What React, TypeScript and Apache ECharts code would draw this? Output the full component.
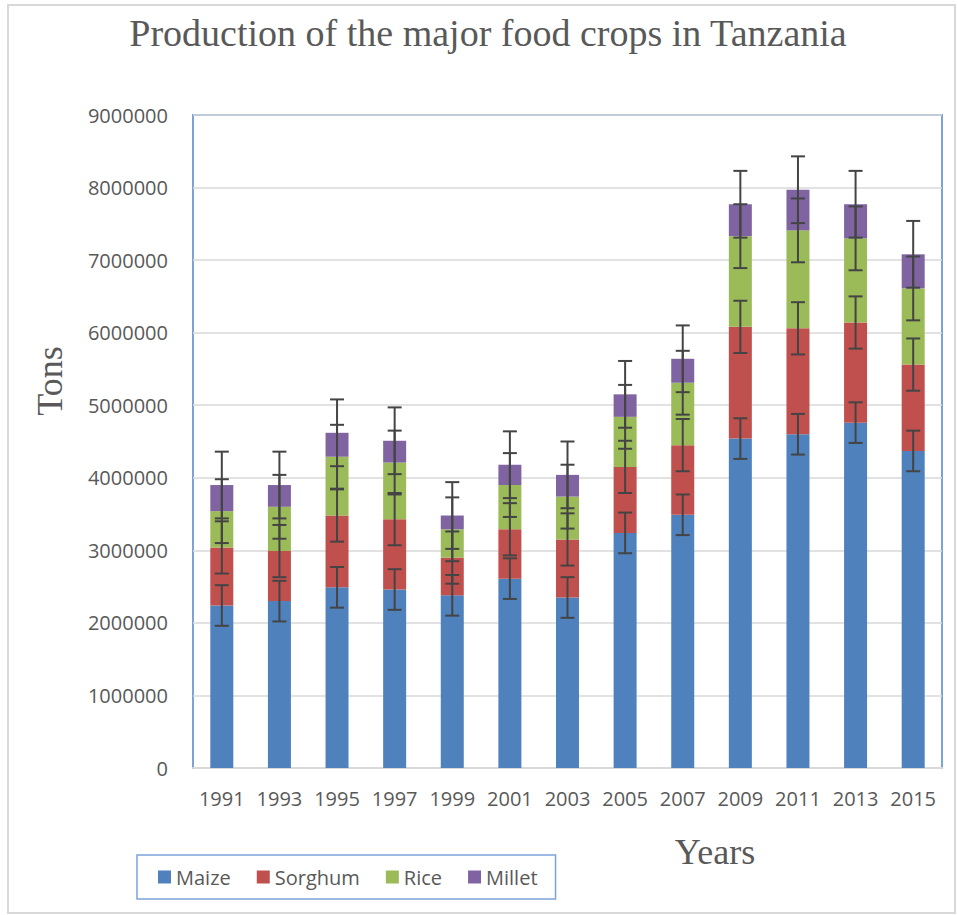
import React, { useEffect, useRef } from "react";
import * as echarts from "echarts";

const years = ["1991", "1993", "1995", "1997", "1999", "2001", "2003", "2005", "2007", "2009", "2011", "2013", "2015"];
const maize = [2240000, 2300000, 2490000, 2460000, 2380000, 2610000, 2350000, 3240000, 3490000, 4540000, 4600000, 4760000, 4370000];
const sorghum = [800000, 690000, 990000, 970000, 520000, 680000, 800000, 910000, 960000, 1540000, 1460000, 1380000, 1190000];
const rice = [500000, 610000, 810000, 780000, 390000, 610000, 590000, 690000, 860000, 1250000, 1350000, 1160000, 1050000];
const millet = [360000, 300000, 330000, 300000, 190000, 280000, 300000, 310000, 330000, 440000, 560000, 470000, 470000];
const seriesNames = ["Maize", "Sorghum", "Rice", "Millet"];
const seriesColors = ["#4F81BD", "#C0504D", "#9BBB59", "#8064A2"];
const errorAmounts = [280000, 360000, 440000, 460000];
const yMin = 0;
const yMax = 9000000;
const yInterval = 1000000;

const titleText = "Production of the major food crops in Tanzania";
const yTitle = "Tons";
const xTitle = "Years";

export default function App() {
  const ref = useRef<HTMLDivElement>(null);
  useEffect(() => {
    if (!ref.current) return;
    const chart = echarts.init(ref.current, undefined, { renderer: "svg" });
    const all = [maize, sorghum, rice, millet];
    const tops: number[][] = [];
    all.forEach((arr, i) => {
      tops.push(arr.map((v, j) => v + (i > 0 ? tops[i - 1][j] : 0)));
    });
    const bars = all.map((arr, i) => ({
      name: seriesNames[i],
      type: "bar",
      stack: "total",
      data: arr,
      barWidth: 23,
      itemStyle: { color: seriesColors[i] },
      z: 2,
    }));
    const errs = all.map((_, i) => ({
      name: seriesNames[i] + " error",
      type: "custom",
      z: 5,
      encode: { x: 0, y: 1 },
      data: years.map((_, j) => [j, tops[i][j], errorAmounts[i]]),
      renderItem: (params: any, api: any) => {
        const x = api.value(0);
        const t = api.value(1);
        const e = api.value(2);
        const p1 = api.coord([x, t + e]);
        const p2 = api.coord([x, t - e]);
        const hw = 7;
        const st = { stroke: "#444444", lineWidth: 2 };
        return {
          type: "group",
          children: [
            { type: "line", shape: { x1: p1[0], y1: p1[1], x2: p2[0], y2: p2[1] }, style: st },
            { type: "line", shape: { x1: p1[0] - hw, y1: p1[1], x2: p1[0] + hw, y2: p1[1] }, style: st },
            { type: "line", shape: { x1: p2[0] - hw, y1: p2[1], x2: p2[0] + hw, y2: p2[1] }, style: st },
          ],
        };
      },
    }));
    chart.setOption({
      animation: false,
      backgroundColor: "#ffffff",
      grid: {
        left: 193,
        right: 16,
        top: 115,
        bottom: 147,
        show: true,
        borderColor: "#7BA3D9",
        borderWidth: 2,
      },
      legend: {
        data: seriesNames,
        left: 137,
        top: 855,
        width: 420,
        padding: [12, 18, 12, 21],
        itemGap: 26,
        itemWidth: 13,
        itemHeight: 13,
        icon: "rect",
        borderColor: "#7BA3D9",
        borderWidth: 1.5,
        textStyle: { fontFamily: "Open Sans", fontSize: 20, color: "#595959" },
      },
      xAxis: {
        type: "category",
        data: years,
        axisLine: { show: true, lineStyle: { color: "#D9D9D9", width: 2 } },
        axisTick: { show: false },
        axisLabel: { interval: 0, margin: 20, fontFamily: "Open Sans", fontSize: 20, color: "#595959" },
      },
      yAxis: {
        type: "value",
        min: yMin,
        max: yMax,
        interval: yInterval,
        axisLine: { show: false },
        axisTick: { show: false },
        splitLine: { lineStyle: { color: "#D9D9D9", width: 1.5 } },
        axisLabel: {
          margin: 25,
          fontFamily: "Open Sans",
          fontSize: 20,
          color: "#595959",
          formatter: (v: number) => String(v),
        },
      },
      graphic: [
        {
          type: "rect",
          shape: { x: 8, y: 5, width: 947, height: 908 },
          style: { fill: "none", stroke: "#D9D9D9", lineWidth: 2 },
          silent: true,
        },
        {
          type: "text",
          x: 488,
          y: 33,
          style: {
            text: titleText,
            fontFamily: "Liberation Serif",
            fontSize: 38,
            fill: "#595959",
            textAlign: "center",
            textVerticalAlign: "middle",
          },
        },
        {
          type: "text",
          x: 50,
          y: 381,
          rotation: Math.PI / 2,
          style: {
            text: yTitle,
            fontFamily: "Liberation Serif",
            fontSize: 36,
            fill: "#595959",
            textAlign: "center",
            textVerticalAlign: "middle",
          },
        },
        {
          type: "text",
          x: 715,
          y: 852,
          style: {
            text: xTitle,
            fontFamily: "Liberation Serif",
            fontSize: 36,
            fill: "#595959",
            textAlign: "center",
            textVerticalAlign: "middle",
          },
        },
      ],
      series: [...bars, ...errs],
    });
    return () => chart.dispose();
  }, []);
  return (
    <div
      ref={ref}
      style={{ position: "fixed", left: 0, top: 0, width: 958, height: 915, background: "#fff" }}
    />
  );
}
